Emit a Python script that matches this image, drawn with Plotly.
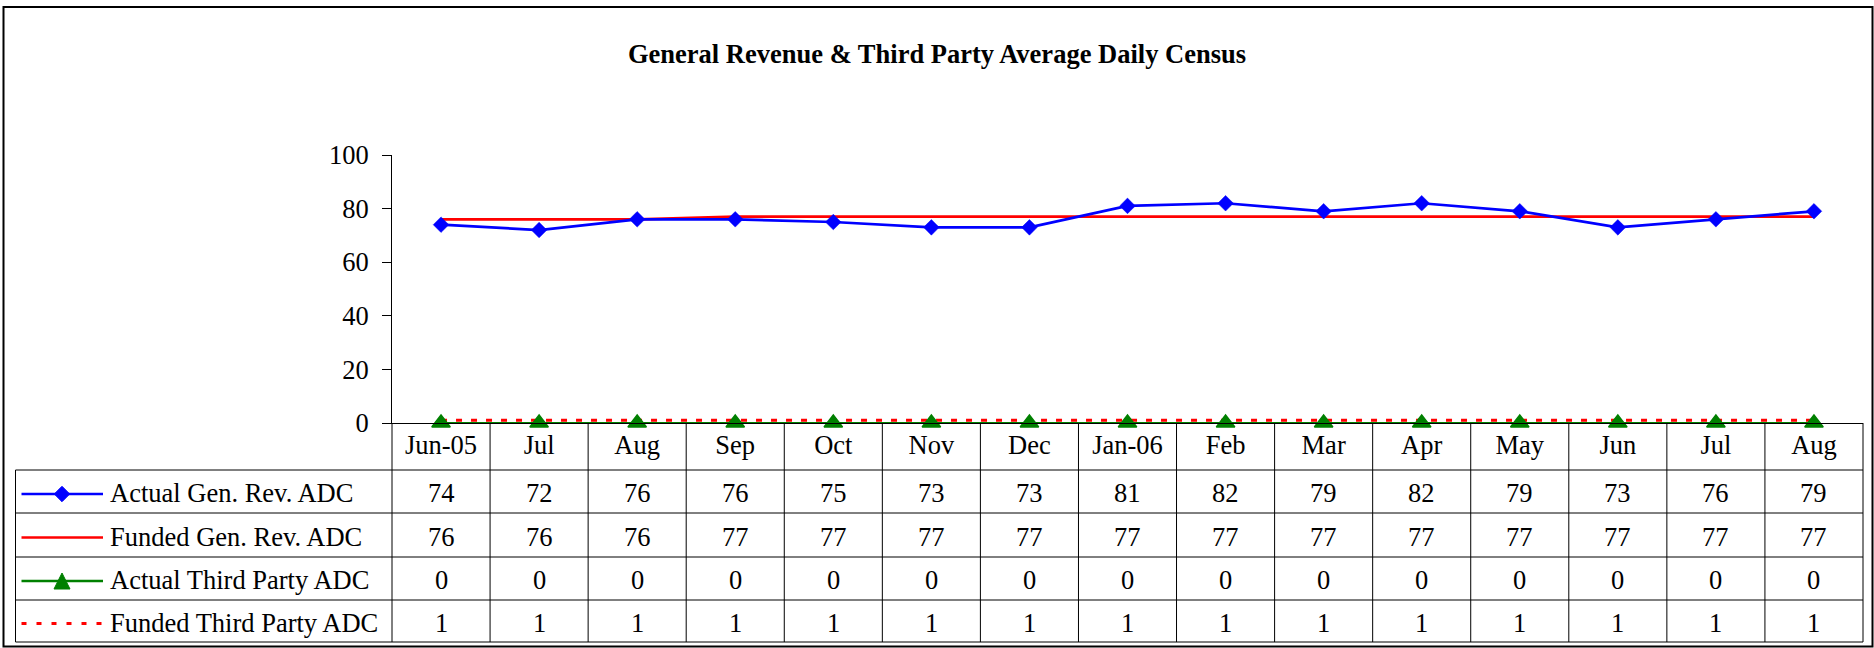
import plotly.graph_objects as go

# ---- data ----
categories = ["Jun-05", "Jul", "Aug", "Sep", "Oct", "Nov", "Dec", "Jan-06",
              "Feb", "Mar", "Apr", "May", "Jun", "Jul ", "Aug "]
cat_labels = ["Jun-05", "Jul", "Aug", "Sep", "Oct", "Nov", "Dec", "Jan-06",
              "Feb", "Mar", "Apr", "May", "Jun", "Jul", "Aug"]
actual_gen_rev = [74, 72, 76, 76, 75, 73, 73, 81, 82, 79, 82, 79, 73, 76, 79]
funded_gen_rev = [76, 76, 76, 77, 77, 77, 77, 77, 77, 77, 77, 77, 77, 77, 77]
actual_third_party = [0, 0, 0, 0, 0, 0, 0, 0, 0, 0, 0, 0, 0, 0, 0]
funded_third_party = [1, 1, 1, 1, 1, 1, 1, 1, 1, 1, 1, 1, 1, 1, 1]
series_names = ["Actual Gen. Rev. ADC", "Funded Gen. Rev. ADC",
                "Actual Third Party ADC", "Funded Third Party ADC"]
y_ticks = [0, 20, 40, 60, 80, 100]
title_text = "General Revenue & Third Party Average Daily Census"

# ---- layout geometry (pixels) ----
W, H = 1874, 648
L, R, T, B = 392, 11, 155, 225
PW, PH = W - L - R, H - T - B
FONT = "Liberation Serif, Times New Roman, serif"
FS = 26.5


def px_x(px):
    return (px - L) / PW


def px_y(py):
    return (H - B - py) / PH


BLUE, RED, GREEN = "#0000FF", "#FF0000", "#008000"

fig = go.Figure()
fig.add_trace(go.Scatter(x=categories, y=funded_third_party, mode="lines",
                         line=dict(color=RED, width=3, dash="6px,9px"),
                         name=series_names[3]))
fig.add_trace(go.Scatter(x=categories, y=actual_third_party, mode="lines+markers",
                         line=dict(color=GREEN, width=2.2),
                         marker=dict(symbol="triangle-up", size=16, color=GREEN,
                                     line=dict(color=GREEN, width=1.5)),
                         name=series_names[2], cliponaxis=False))
fig.add_trace(go.Scatter(x=categories, y=funded_gen_rev, mode="lines",
                         line=dict(color=RED, width=2.7), name=series_names[1]))
fig.add_trace(go.Scatter(x=categories, y=actual_gen_rev, mode="lines+markers",
                         line=dict(color=BLUE, width=2.7),
                         marker=dict(symbol="diamond", size=12, color=BLUE,
                                     line=dict(color=BLUE, width=0.5)),
                         name=series_names[0], cliponaxis=False))

# ---- data table ----
row_bounds = [423, 470, 513, 557, 600, 642]
table_rows = [actual_gen_rev, funded_gen_rev, actual_third_party, funded_third_party]
shapes = []
annotations = []
LINE = dict(color="black", width=1)
legend_left = 15.5

# horizontal lines
for yb in row_bounds[1:]:
    shapes.append(dict(type="line", xref="paper", yref="paper",
                       x0=px_x(legend_left), x1=1, y0=px_y(yb), y1=px_y(yb), line=LINE))
# outer vertical edges of the category columns
shapes.append(dict(type="line", xref="paper", yref="paper", x0=1, x1=1,
                   y0=px_y(row_bounds[0]), y1=px_y(row_bounds[-1]), line=LINE))
shapes.append(dict(type="line", xref="paper", yref="paper", x0=0, x1=0,
                   y0=px_y(row_bounds[0]), y1=px_y(row_bounds[-1]), line=LINE))
# legend column left edge
shapes.append(dict(type="line", xref="paper", yref="paper",
                   x0=px_x(legend_left), x1=px_x(legend_left),
                   y0=px_y(row_bounds[1]), y1=px_y(row_bounds[-1]), line=LINE))
# inner category boundaries
for i in range(len(categories) - 1):
    shapes.append(dict(type="line", xref="x", yref="paper", x0=i + 0.5, x1=i + 0.5,
                       y0=px_y(row_bounds[0]), y1=px_y(row_bounds[-1]), line=LINE))

# cell values
for r, vals in enumerate(table_rows):
    yc = (row_bounds[r + 1] + row_bounds[r + 2]) / 2 + 1.5
    for c, v in zip(categories, vals):
        annotations.append(dict(x=c, xref="x", y=px_y(yc), yref="paper",
                                text=str(v), showarrow=False, xanchor="center",
                                yanchor="middle", font=dict(family=FONT, size=FS, color="black")))

# legend column: samples + labels
styles = [
    dict(color=BLUE, width=2.7, marker="diamond", dash=None),
    dict(color=RED, width=2.7, marker=None, dash=None),
    dict(color=GREEN, width=2.7, marker="triangle", dash=None),
    dict(color=RED, width=3, marker=None, dash="5px,10px"),
]
for r, (name, st) in enumerate(zip(series_names, styles)):
    yc = (row_bounds[r + 1] + row_bounds[r + 2]) / 2 + 2.5
    ln = dict(color=st["color"], width=st["width"])
    if st["dash"]:
        ln["dash"] = st["dash"]
    shapes.append(dict(type="line", xref="paper", yref="paper",
                       x0=px_x(21.5), x1=px_x(103), y0=px_y(yc), y1=px_y(yc), line=ln))
    cx = 62
    if st["marker"] == "diamond":
        hw, hh = 7.7, 7.7
        path = (f"M {px_x(cx - hw)} {px_y(yc)} L {px_x(cx)} {px_y(yc - hh)} "
                f"L {px_x(cx + hw)} {px_y(yc)} L {px_x(cx)} {px_y(yc + hh)} Z")
        shapes.append(dict(type="path", xref="paper", yref="paper", path=path,
                           fillcolor=st["color"], line=dict(color=st["color"], width=1)))
    elif st["marker"] == "triangle":
        hw = 8
        path = (f"M {px_x(cx - hw)} {px_y(yc + 8)} L {px_x(cx)} {px_y(yc - 8)} "
                f"L {px_x(cx + hw)} {px_y(yc + 8)} Z")
        shapes.append(dict(type="path", xref="paper", yref="paper", path=path,
                           fillcolor=st["color"], line=dict(color=st["color"], width=1)))
    annotations.append(dict(x=px_x(108), xref="paper", y=px_y(yc - 1), yref="paper",
                            text=name, showarrow=False, xanchor="left", yanchor="middle",
                            font=dict(family=FONT, size=FS, color="black")))

# outer chart border
shapes.append(dict(type="rect", xref="paper", yref="paper",
                   x0=px_x(3.5), x1=px_x(1872.5), y0=px_y(646.5), y1=px_y(7),
                   line=dict(color="black", width=2)))

fig.update_layout(
    width=W, height=H,
    margin=dict(l=L, r=R, t=T, b=B),
    paper_bgcolor="white", plot_bgcolor="white",
    showlegend=False,
    font=dict(family=FONT, size=FS, color="black"),
    title=dict(text=f"<b>{title_text}</b>", x=0.5, xref="container", xanchor="center",
               y=1 - 54 / H, yref="container", yanchor="middle",
               font=dict(family=FONT, size=FS, color="black")),
    xaxis=dict(type="category", range=[-0.5, len(categories) - 0.5],
               tickmode="array", tickvals=categories, ticktext=cat_labels,
               showline=True, linecolor="black", linewidth=1, ticks="",
               showgrid=False, zeroline=False, ticklabelstandoff=-2,
               tickfont=dict(family=FONT, size=FS, color="black")),
    yaxis=dict(range=[0, 100], tickvals=y_ticks, showline=True, linecolor="black",
               linewidth=1, ticks="outside", ticklen=9, tickcolor="black", tickwidth=1,
               showgrid=False, zeroline=False, ticklabelstandoff=8,
               tickfont=dict(family=FONT, size=FS, color="black")),
    shapes=shapes,
    annotations=annotations,
)

fig.write_html("out.html", config={"displayModeBar": False},
               post_script="document.body.style.margin='0';"
                           "document.body.style.overflow='hidden';")
